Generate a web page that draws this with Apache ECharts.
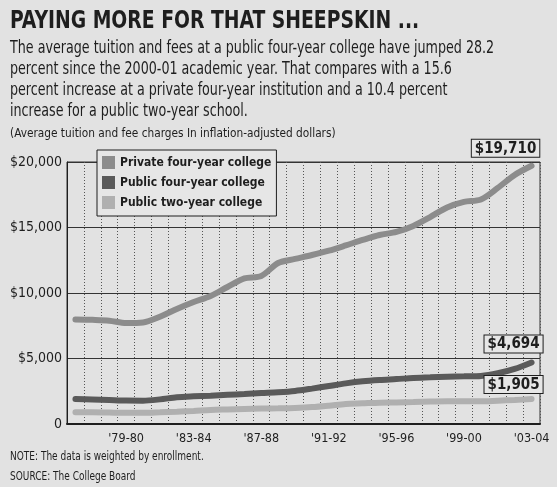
<!DOCTYPE html>
<html>
<head>
<meta charset="utf-8">
<script src="https://cdn.jsdelivr.net/npm/echarts@6/dist/echarts.min.js"></script>
<style>
  html, body { margin: 0; padding: 0; background: #e2e2e2; }
  #chart { width: 557px; height: 487px; }
</style>
</head>
<body>
<div id="chart"></div>
<script>
// academic years '76-77 .. '03-04
const years = ['76-77', '77-78', '78-79', '79-80', '80-81', '81-82', '82-83', '83-84',
  '84-85', '85-86', '86-87', '87-88', '88-89', '89-90', '90-91', '91-92', '92-93',
  '93-94', '94-95', '95-96', '96-97', '97-98', '98-99', '99-00', '00-01', '01-02',
  '02-03', '03-04'];

// average tuition and fees, inflation-adjusted dollars
const privateFour = [7980, 7950, 7890, 7710, 7750, 8190, 8780, 9310, 9770, 10460, 11110,
  11300, 12290, 12600, 12900, 13230, 13630, 14050, 14430, 14660, 15120, 15800, 16530,
  16950, 17140, 18020, 19010, 19710];
const publicFour = [1910, 1870, 1830, 1790, 1780, 1880, 2040, 2110, 2160, 2230, 2290,
  2360, 2420, 2520, 2700, 2900, 3100, 3260, 3360, 3430, 3510, 3560, 3610, 3640, 3670,
  3870, 4200, 4694];
const publicTwo = [890, 890, 870, 850, 850, 890, 940, 1000, 1070, 1110, 1150, 1180,
  1200, 1230, 1290, 1400, 1530, 1580, 1630, 1650, 1680, 1720, 1740, 1740, 1730, 1780,
  1830, 1905];

const seriesNames = ['Private four-year college', 'Public four-year college', 'Public two-year college'];
const endLabels = ['$19,710', '$4,694', '$1,905'];

const narrow = '"DejaVu Sans Condensed", "Liberation Sans Narrow", sans-serif';
const ink = '#1e1e1e';

const chart = echarts.init(document.getElementById('chart'));

function makeSeries(name, values, color, label, offset) {
  const last = values.length - 1;
  return {
    name: name,
    type: 'line',
    smooth: 0.3,
    symbol: 'circle',
    symbolSize: 0,
    itemStyle: { color: color },
    lineStyle: { color: color, width: 6, cap: 'round' },
    data: values.map((v, i) => i === last ? {
      value: v,
      label: {
        show: true,
        position: 'top',
        distance: 0,
        offset: offset,
        formatter: label,
        fontFamily: narrow,
        fontWeight: 'bold',
        fontSize: 15,
        lineHeight: 16,
        color: ink,
        backgroundColor: '#e6e6e6',
        borderColor: ink,
        borderWidth: 1,
        padding: [1, 3, 0, 3]
      }
    } : v)
  };
}

// squeezed text block (the paper uses a condensed face)
function textBlock(x, y, text, size, weight, sx, lh) {
  return {
    type: 'text',
    x: x, y: y,
    scaleX: sx,
    silent: true,
    style: {
      text: text,
      fontFamily: narrow,
      fontSize: size,
      fontWeight: weight,
      lineHeight: lh || size * 1.2,
      fill: ink,
      align: 'left',
      verticalAlign: 'top'
    }
  };
}

const option = {
  backgroundColor: '#e2e2e2',
  animation: false,
  graphic: [
    textBlock(10, 7, 'PAYING MORE FOR THAT SHEEPSKIN ...', 24, 'bold', 0.87),
    textBlock(10, 38,
      'The average tuition and fees at a public four-year college have jumped 28.2\n' +
      'percent since the 2000-01 academic year. That compares with a 15.6\n' +
      'percent increase at a private four-year institution and a 10.4 percent\n' +
      'increase for a public two-year school.', 17, 'normal', 0.83, 21),
    textBlock(10, 127, '(Average tuition and fee charges In inflation-adjusted dollars)', 12, 'normal', 0.98),
    textBlock(10, 449, 'NOTE: The data is weighted by enrollment.', 13, 'normal', 0.77),
    textBlock(10, 469, 'SOURCE: The College Board', 13, 'normal', 0.77)
  ],
  legend: {
    data: seriesNames,
    orient: 'vertical',
    left: 97, top: 150,
    icon: 'rect',
    itemWidth: 13,
    itemHeight: 13,
    itemGap: 7,
    itemStyle: { borderWidth: 0 },
    padding: [6, 5, 7, 5],
    backgroundColor: '#e6e6e6',
    borderColor: ink,
    borderWidth: 1,
    textStyle: { fontFamily: narrow, fontWeight: 'bold', fontSize: 12, color: ink }
  },
  grid: {
    left: 67, right: 17, top: 162, bottom: 63,
    outerBoundsMode: 'none',
    show: true,
    borderColor: '#333',
    borderWidth: 1
  },
  xAxis: {
    type: 'category',
    data: years,
    boundaryGap: true,
    axisLine: { lineStyle: { color: ink, width: 2 } },
    axisTick: { show: false },
    axisLabel: {
      interval: (idx) => idx % 4 === 3,
      formatter: (v) => "'" + v,
      fontFamily: narrow,
      fontSize: 12.5,
      color: ink,
      margin: 8
    },
    splitLine: {
      show: true,
      interval: 0,
      lineStyle: { color: '#555', width: 1, type: [1, 2] }
    }
  },
  yAxis: {
    type: 'value',
    min: 0, max: 20000, interval: 5000,
    axisLine: { show: true, lineStyle: { color: ink, width: 1 } },
    axisTick: { show: false },
    axisLabel: {
      formatter: (v) => v === 0 ? '0' : '$' + v.toLocaleString('en-US'),
      fontFamily: narrow,
      fontSize: 14,
      color: ink,
      margin: 5
    },
    splitLine: { show: true, lineStyle: { color: '#333', width: 1 } }
  },
  series: [
    makeSeries(seriesNames[0], privateFour, '#8c8c8c', endLabels[0], [-26, -9]),
    makeSeries(seriesNames[1], publicFour, '#5a5a5a', endLabels[1], [-18, -10]),
    makeSeries(seriesNames[2], publicTwo, '#b0b0b0', endLabels[2], [-18, -6])
  ]
};

chart.setOption(option);
</script>
</body>
</html>
